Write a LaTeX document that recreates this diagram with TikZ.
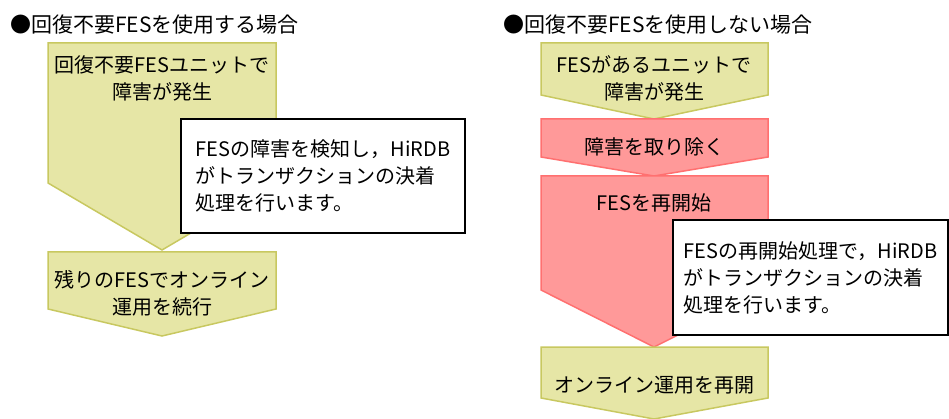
\documentclass[tikz,border=0pt]{standalone}
\usepackage{fontspec}
\setmainfont{Noto Sans CJK JP}
\usepackage{tikz}

\definecolor{okfill}{RGB}{230,230,166}
\definecolor{okline}{RGB}{200,200,96}
\definecolor{fixfill}{RGB}{255,153,153}
\definecolor{fixline}{RGB}{255,112,112}

\begin{document}
\begin{tikzpicture}[
  x=1pt,
  y=-1pt,
  okstep/.style={draw=okline, fill=okfill, line width=1.5pt},
  fixstep/.style={draw=fixline, fill=fixfill, line width=1.5pt},
  steptext/.style={align=center, inner sep=0pt, font=\fontsize{20}{27}\selectfont},
  heading/.style={anchor=west, inner sep=0pt, font=\fontsize{21}{27}\selectfont},
  note/.style={draw, fill=white, line width=2pt, align=left, inner sep=0pt, font=\fontsize{20}{27}\selectfont}
]
\useasboundingbox (0,0) rectangle (949,419);

\node[heading] (titleuse) at (10,25) {●回復不要FESを使用する場合};
\node[heading] (titlenouse) at (503,25) {●回復不要FESを使用しない場合};

\draw[okstep] (48,43) -- (276,43) -- (276,183) -- (162,250) -- (48,183) -- cycle;
\draw[okstep] (48,252) -- (276,252) -- (276,309) -- (162,336) -- (48,309) -- cycle;
\node[steptext] (fail) at (162,78) {回復不要FESユニットで\\障害が発生};
\node[steptext] (keepon) at (162,293) {残りのFESでオンライン\\運用を続行};
\node[note, minimum width=284, minimum height=114] (detect) at (323,176) {FESの障害を検知し，HiRDB\\がトランザクションの決着\\処理を行います。};

\draw[okstep] (541,43) -- (768,43) -- (768,95) -- (654,119) -- (541,95) -- cycle;
\draw[fixstep] (541,119) -- (768,119) -- (768,157) -- (654,176) -- (541,157) -- cycle;
\draw[fixstep] (541,176) -- (768,176) -- (768,290) -- (654,347) -- (541,290) -- cycle;
\draw[okstep] (541,347) -- (768,347) -- (768,398) -- (654,419) -- (541,398) -- cycle;
\node[steptext] (unitfail) at (654,78) {FESがあるユニットで\\障害が発生};
\node[steptext] (remove) at (654,147) {障害を取り除く};
\node[steptext] (restart) at (654,203) {FESを再開始};
\node[steptext] (resume) at (654,385) {オンライン運用を再開};
\node[note, minimum width=275, minimum height=115] (settle) at (810.5,277.5) {FESの再開始処理で，HiRDB\\がトランザクションの決着\\処理を行います。};

\end{tikzpicture}
\end{document}
